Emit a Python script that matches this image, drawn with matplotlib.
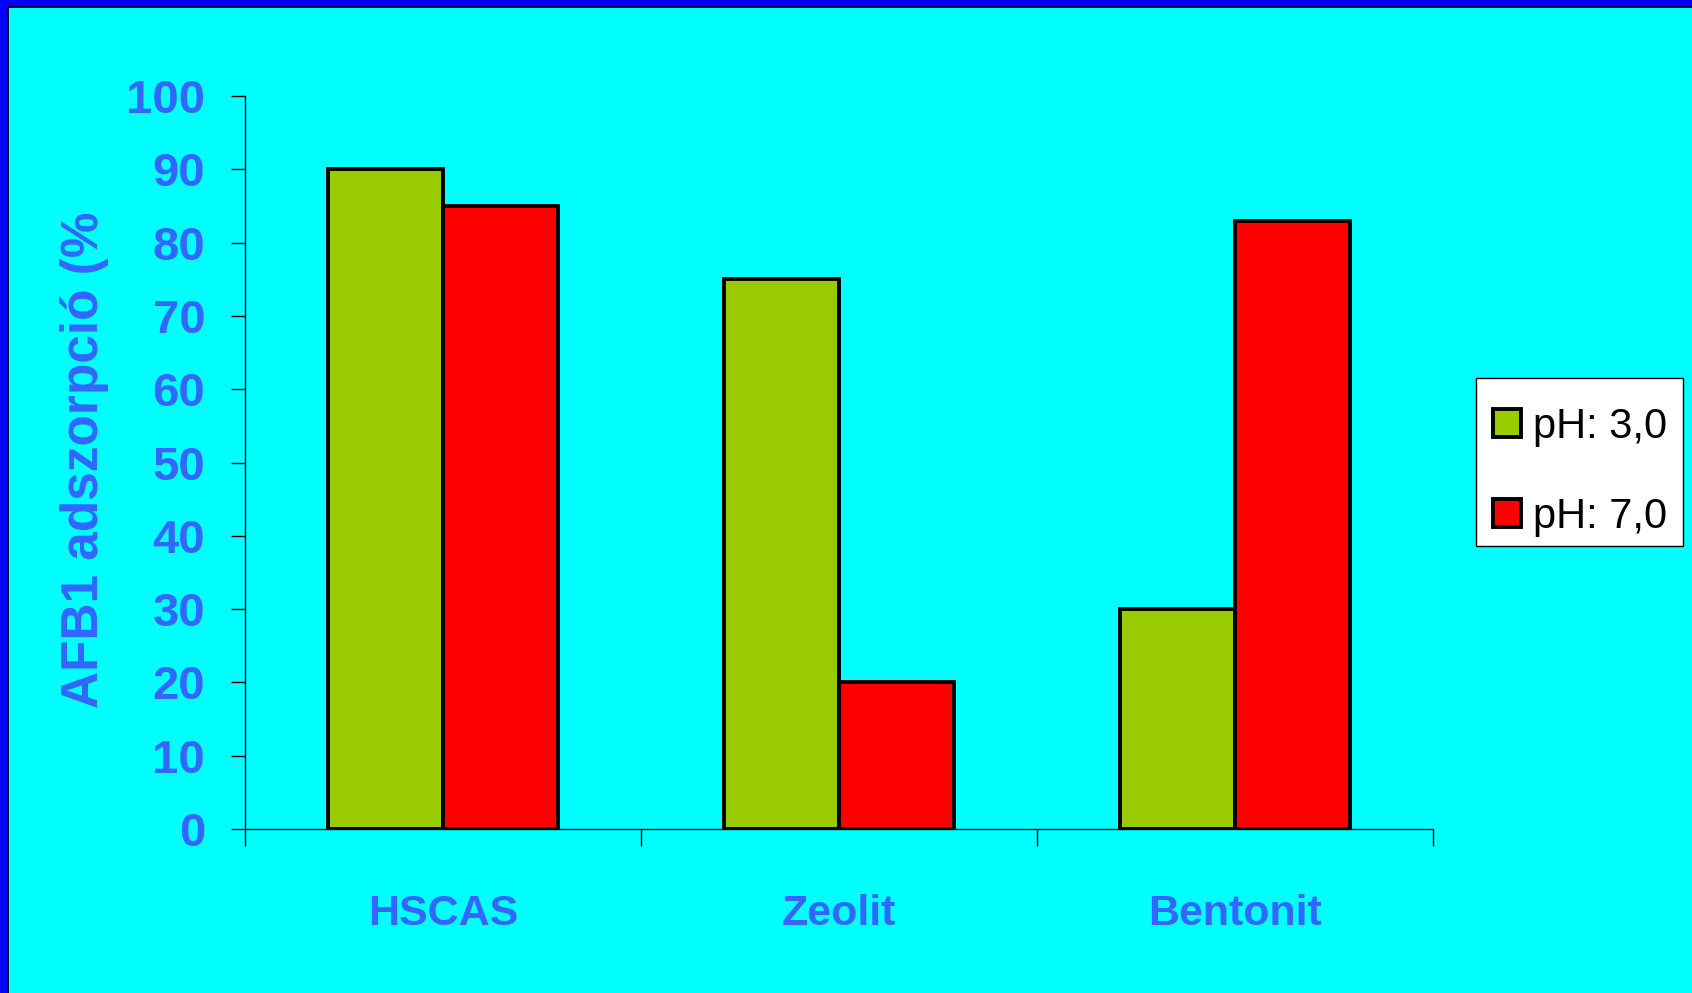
"""AFB1 adszorpció bar chart (HSCAS / Zeolit / Bentonit at two pH values)."""
import matplotlib
matplotlib.use("Agg")
import matplotlib.pyplot as plt
from matplotlib.patches import Rectangle
from matplotlib.transforms import Bbox, TransformedBbox
import numpy as np

categories = ["HSCAS", "Zeolit", "Bentonit"]
series_labels = ["pH: 3,0", "pH: 7,0"]
ph3_values = [90, 75, 30]
ph7_values = [85, 20, 83]
y_ticks = [0, 10, 20, 30, 40, 50, 60, 70, 80, 90, 100]

BG = "#00FFFF"
TEXT = "#3366FF"
COLORS = ["#99CC00", "#FF0000"]
W, H = 1692, 993

fig = plt.figure(figsize=(W / 100, H / 100), dpi=100, facecolor=BG)
ax = fig.add_axes([245 / W, 1 - 829 / H, (1433 - 245) / W, (829 - 96) / H])
ax.set_facecolor(BG)

x = np.arange(len(categories))
width = 0.29
for i, (vals, lab) in enumerate(zip([ph3_values, ph7_values], series_labels)):
	offset = (i - 0.5) * width
	ax.bar(x + offset, vals, width, color=COLORS[i], edgecolor="black",
		linewidth=2.8, label=lab, zorder=3)

ax.set_xlim(-0.5, len(categories) - 0.5)
ax.set_ylim(0, 100)
ax.set_yticks(y_ticks)
ax.set_xticks(x)
ax.set_xticklabels(categories)
ax.set_xticks(np.arange(len(categories) + 1) - 0.5, minor=True)

for lab in ax.get_yticklabels():
	lab.set_family("Liberation Sans")
	lab.set_weight("bold")
	lab.set_size(34)
	lab.set_color(TEXT)
for lab in ax.get_xticklabels():
	lab.set_family("Liberation Sans")
	lab.set_weight("bold")
	lab.set_size(31)
	lab.set_color(TEXT)

ax.tick_params(axis="y", direction="out", length=10, width=1.0, pad=18.7,
	color="black")
ax.tick_params(axis="x", which="major", length=0, pad=47)
ax.tick_params(axis="x", which="minor", direction="out", length=12,
	width=1.0, color="black")

for side in ["top", "right"]:
	ax.spines[side].set_visible(False)
for side in ["left", "bottom"]:
	ax.spines[side].set_linewidth(1.0)
	ax.spines[side].set_color("black")

ax.set_ylabel("AFB1 adszorpció (%)", color=TEXT, fontsize=37,
	fontweight="bold", family="Liberation Sans")
ax.yaxis.set_label_coords((109 - 245) / (1433 - 245), 0.515)
# the original cuts the label off near the top
ax.yaxis.label.set_clip_box(
	TransformedBbox(Bbox([[0, 0], [1, 1 - 212 / H]]), fig.transFigure))
ax.yaxis.label.set_clip_on(True)

# legend box drawn separately so the entries can sit low in it, as in the original
fig.patches.append(Rectangle((1476 / W, 1 - 546 / H), (1683 - 1476) / W,
	(546 - 378) / H, transform=fig.transFigure, facecolor="white",
	edgecolor="black", linewidth=1.0, zorder=-1))
leg = ax.legend(loc="upper left", bbox_to_anchor=(1476 / W, 1 - 390 / H),
	bbox_transform=fig.transFigure, frameon=False, borderaxespad=0,
	prop={"family": "Liberation Sans", "size": 30},
	handlelength=0.67, handleheight=0.67, handletextpad=0.3,
	labelspacing=1.2, borderpad=0.4)

# blue frame on the top and left edges
fig.patches.append(Rectangle((0, 1 - 6 / H), 1, 6 / H, transform=fig.transFigure,
	facecolor="#0000FF", edgecolor="none", zorder=10))
fig.patches.append(Rectangle((0, 1 - 8 / H), 1, 2 / H, transform=fig.transFigure,
	facecolor="#000033", edgecolor="none", zorder=10))
fig.patches.append(Rectangle((0, 0), 7 / W, 1, transform=fig.transFigure,
	facecolor="#0000FF", edgecolor="none", zorder=10))
fig.patches.append(Rectangle((7 / W, 0), 1.5 / W, 1 - 6 / H, transform=fig.transFigure,
	facecolor="#000033", edgecolor="none", zorder=10))

fig.savefig("out.png", dpi=100, facecolor=BG)
